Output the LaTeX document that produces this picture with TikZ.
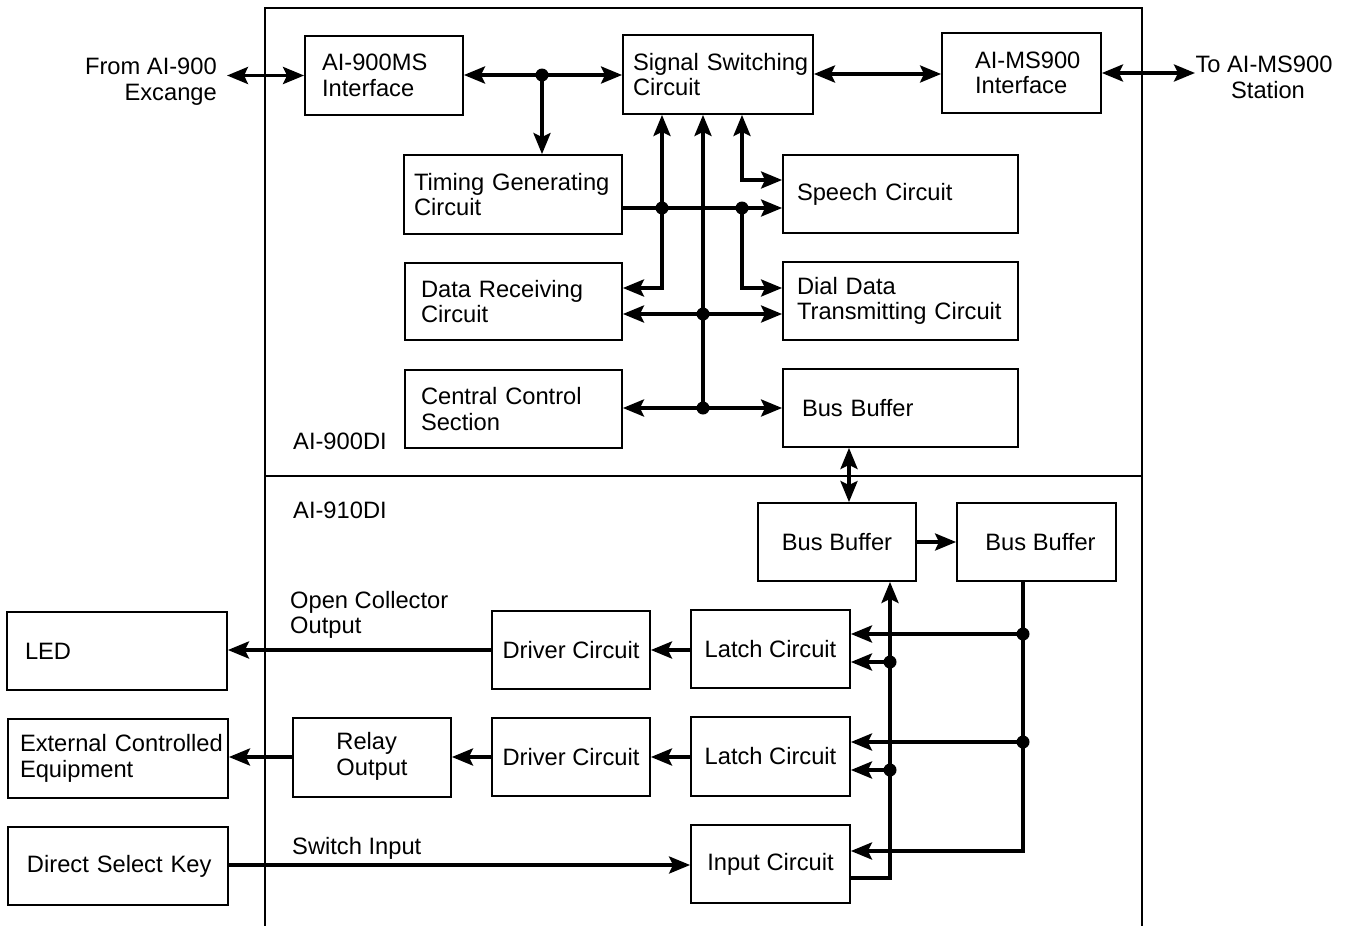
\documentclass[tikz,border=0pt]{standalone}
\usepackage{fontspec}
\setmainfont{Liberation Sans}
\usetikzlibrary{arrows.meta}
\begin{document}
\begin{tikzpicture}[x=1pt,y=-1pt,
  font=\fontsize{23.7}{25.5}\selectfont,
  box/.style={draw, line width=1.8pt, inner sep=0pt, align=left},
  cbox/.style={draw, line width=1.8pt, inner sep=0pt, align=center},
  wire/.style={line width=3.5pt},
  >={Stealth[length=21pt,width=17pt,inset=4pt]},
  dot/.style={circle, fill, inner sep=0pt, minimum size=13pt},
  lbl/.style={inner sep=0pt, align=left},
  rlbl/.style={inner sep=0pt, align=right}]
\useasboundingbox (0,0) rectangle (1350,926);

% frame
\draw[line width=1.4pt] (265,926) -- (265,8) -- (1142,8) -- (1142,926);
\draw[line width=2.6pt] (265,476) -- (1142,476);

% upper boxes
\node[box, minimum width=158, minimum height=79, text width=124] (ms) at (384,75.5) {\mbox{AI-900MS}\\\mbox{Interface}};
\node[box, minimum width=190, minimum height=79, text width=170] (sig) at (718,74.5) {\mbox{Signal Switching}\\\mbox{Circuit}};
\node[box, minimum width=159, minimum height=80, text width=93] (ams) at (1021.5,73) {\mbox{AI-MS900}\\\mbox{Interface}};
\node[box, minimum width=218, minimum height=79, text width=198] (tim) at (513,194.5) {\mbox{Timing Generating}\\\mbox{Circuit}};
\node[box, minimum width=235, minimum height=78, text width=207] (sp) at (900.5,194) {\mbox{Speech Circuit}};
\node[box, minimum width=217, minimum height=77, text width=185] (dr) at (513.5,301.5) {\mbox{Data Receiving}\\\mbox{Circuit}};
\node[box, minimum width=235, minimum height=78, text width=207] (dd) at (900.5,301) {\mbox{Dial Data}\\\mbox{Transmitting Circuit}};
\node[box, minimum width=217, minimum height=78, text width=185] (cc) at (513.5,409) {\mbox{Central Control}\\\mbox{Section}};
\node[box, minimum width=235, minimum height=78, text width=197] (bb1) at (900.5,408) {\mbox{Bus Buffer}};

% lower boxes
\node[cbox, minimum width=158, minimum height=78] (bb2) at (837,542) {Bus Buffer};
\node[cbox, minimum width=159, minimum height=78] (bb3) at (1036.5,542) {\hspace{8pt}Bus Buffer};
\node[cbox, minimum width=159, minimum height=78] (la1) at (770.5,649) {Latch Circuit};
\node[cbox, minimum width=159, minimum height=79] (la2) at (770.5,756.5) {Latch Circuit};
\node[cbox, minimum width=159, minimum height=78] (inp) at (770.5,864) {Input Circuit};
\node[cbox, minimum width=158, minimum height=78] (dv1) at (571,650) {Driver Circuit};
\node[cbox, minimum width=158, minimum height=78] (dv2) at (571,757) {Driver Circuit};
\node[cbox, minimum width=158, minimum height=79] (rel) at (372,757.5) {\begin{tabular}{@{}l@{}}Relay\\Output\end{tabular}};
\node[box, minimum width=220, minimum height=78, text width=184] (led) at (117,651) {LED};
\node[box, minimum width=220, minimum height=79, text width=196] (ext) at (118,758.5) {\mbox{External Controlled}\\\mbox{Equipment}};
\node[box, minimum width=220, minimum height=78, text width=182] (dsk) at (118,866) {\mbox{Direct Select Key}};

% labels
\node[rlbl, anchor=north east] (from) at (217,58) {From AI-900\hspace{14pt}\\Excange};
\node[inner sep=0pt, align=center, anchor=north] (to) at (1264,56) {To AI-MS900\\\hspace{8pt}Station};
\node[lbl, anchor=base west] (l900) at (293,449) {AI-900DI};
\node[lbl, anchor=base west] (l910) at (293,518) {AI-910DI};
\node[lbl, anchor=north west] (ocl) at (290,591) {Open Collector\\Output};
\node[lbl, anchor=base west] (swl) at (292,854) {Switch Input};

\coordinate (fromEnd) at (227,75.5);
\coordinate (toEnd) at (1195,73);

% junction dots
\node[dot] (j1) at (542,75) {};
\node[dot] (j2) at (662,208) {};
\node[dot] (j3) at (742,208) {};
\node[dot] (j4) at (703,314) {};
\node[dot] (j5) at (703,408) {};
\node[dot] (j6) at (890,662) {};
\node[dot] (j7) at (890,770) {};
\node[dot] (j8) at (1023,634) {};
\node[dot] (j9) at (1023,742) {};

% upper connectors
\draw[wire,<->] (fromEnd) -- (ms.west);
\draw[wire,<->] (ms.east |- j1) -- (sig.west |- j1);
\draw[wire,->] (j1.center) -- (j1 |- tim.north);
\draw[wire,<->] (sig.east |- 0,74) -- (ams.west |- 0,74);
\draw[wire,<->] (ams.east |- toEnd) -- (toEnd);

\draw[wire,->] (tim.east |- j2) -- (sp.west |- j2);
\draw[wire,<->] (sig.south -| j2) -- (662,288) -- (dr.east |- 0,288);
\draw[wire,->] (j5.center) -- (sig.south -| j5);
\draw[wire,<->] (dr.east |- j4) -- (dd.west |- j4);
\draw[wire,<->] (cc.east |- j5) -- (bb1.west |- j5);
\draw[wire,<->] (sig.south -| j3) -- (742,180) -- (sp.west |- 0,180);
\draw[wire,->] (j3.center) -- (742,288) -- (dd.west |- 0,288);

% lower connectors
\draw[wire,<->] (bb1.south -| 849,0) -- (bb2.north -| 849,0);
\draw[wire,->] (bb2.east) -- (bb3.west);
\draw[wire,->] (inp.east |- 0,878) -- (890,878) -- (bb2.south -| j6);
\draw[wire,->] (j6.center) -- (la1.east |- j6);
\draw[wire,->] (j7.center) -- (la2.east |- j7);
\draw[wire,->] (bb3.south -| j8) -- (1023,851) -- (inp.east |- 0,851);
\draw[wire,->] (j8.center) -- (la1.east |- j8);
\draw[wire,->] (j9.center) -- (la2.east |- j9);

\draw[wire,->] (la1.west |- 0,650) -- (dv1.east |- 0,650);
\draw[wire,->] (dv1.west |- 0,650) -- (led.east |- 0,650);
\draw[wire,->] (la2.west |- 0,757) -- (dv2.east |- 0,757);
\draw[wire,->] (dv2.west |- 0,757) -- (rel.east |- 0,757);
\draw[wire,->] (rel.west |- 0,757) -- (ext.east |- 0,757);
\draw[wire,->] (dsk.east |- 0,865) -- (inp.west |- 0,865);
\end{tikzpicture}
\end{document}
